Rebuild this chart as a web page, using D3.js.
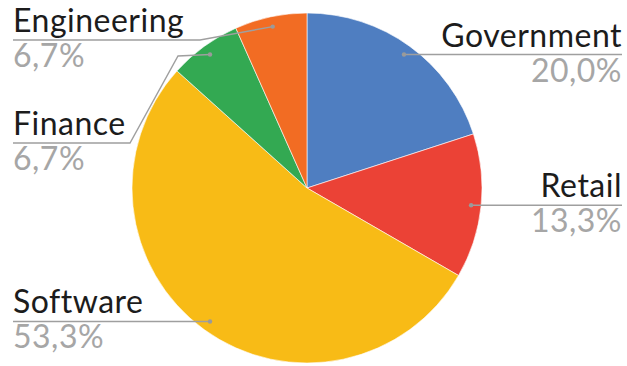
<!DOCTYPE html>
<html>
<head>
<meta charset="utf-8">
<script src="https://cdn.jsdelivr.net/npm/d3@7"></script>
<style>
  body { margin: 0; background: #fff; }
  svg { display: block; font-family: Lato, "Open Sans", sans-serif; }
</style>
</head>
<body>
<div id="chart"></div>
<script>
var categories = ["Government", "Retail", "Software", "Finance", "Engineering"],
	counts = [3, 2, 8, 1, 1],
	colors = ["#4f7ec1", "#eb4236", "#f8bb16", "#33a952", "#f26c23"];

var w = 627,
	h = 366,
	cx = 307,
	cy = 188,
	radius = 175,
	dotRadius = 165,
	fontSize = 32;

// leader line layout: which side, y of the horizontal part (null = level with the dot), elbow points
var labelLayout = {
	"Government": { side: "right", y: null, bends: [] },
	"Retail": { side: "right", y: null, bends: [] },
	"Software": { side: "left", y: null, bends: [] },
	"Finance": { side: "left", y: 143, bends: [[178, 56], [130, 143]] },
	"Engineering": { side: "left", y: 40, bends: [[200, 40]] }
};

var locale = d3.formatLocale({ decimal: ",", thousands: ".", grouping: [3], currency: ["", ""] });
var pct = locale.format(".1%");

var total = d3.sum(counts);
var data = categories.map(function(c, i) { return { name: c, value: counts[i], color: colors[i] }; });

var pie = d3.pie().sort(null).value(function(d) { return d.value; });
var arc = d3.arc().innerRadius(0).outerRadius(radius);
var dotArc = d3.arc().innerRadius(dotRadius).outerRadius(dotRadius);

var svg = d3.select("#chart").append("svg")
	.attr("width", w)
	.attr("height", h);

var g = svg.append("g").attr("transform", "translate(" + cx + "," + cy + ")");

g.selectAll(".slice")
	.data(pie(data))
	.enter().append("path")
	.attr("class", "slice")
	.attr("d", arc)
	.style("fill", function(d) { return d.data.color; })
	.style("stroke", "#fff")
	.style("stroke-width", 0.6);

var labels = svg.selectAll(".label")
	.data(pie(data))
	.enter().append("g")
	.attr("class", "label");

labels.each(function(d) {
	var sel = d3.select(this),
		lay = labelLayout[d.data.name],
		c = dotArc.centroid(d),
		dot = [c[0] + cx, c[1] + cy],
		edge = lay.side == "right" ? 622 : 13,
		ly = lay.y == null ? dot[1] : lay.y;

	var pts = [dot].concat(lay.bends);
	pts.push([edge, ly]);

	sel.append("path")
		.attr("d", d3.line()(pts))
		.style("fill", "none")
		.style("stroke", "#9f9f9f")
		.style("stroke-width", 1.4);

	sel.append("circle")
		.attr("cx", dot[0])
		.attr("cy", dot[1])
		.attr("r", 2.2)
		.style("fill", "#9a9a9a");

	var anchor = lay.side == "right" ? "end" : "start";
	sel.append("text")
		.attr("x", edge)
		.attr("y", ly - 8)
		.attr("text-anchor", anchor)
		.style("font-size", fontSize + "px")
		.style("letter-spacing", "0.5px")
		.style("fill", "#1c1c1c")
		.text(d.data.name);

	sel.append("text")
		.attr("x", edge)
		.attr("y", ly + 27)
		.attr("text-anchor", anchor)
		.style("font-size", fontSize + "px")
		.style("letter-spacing", "0.5px")
		.style("fill", "#a6a6a6")
		.text(pct(d.data.value / total));
});
</script>
</body>
</html>
